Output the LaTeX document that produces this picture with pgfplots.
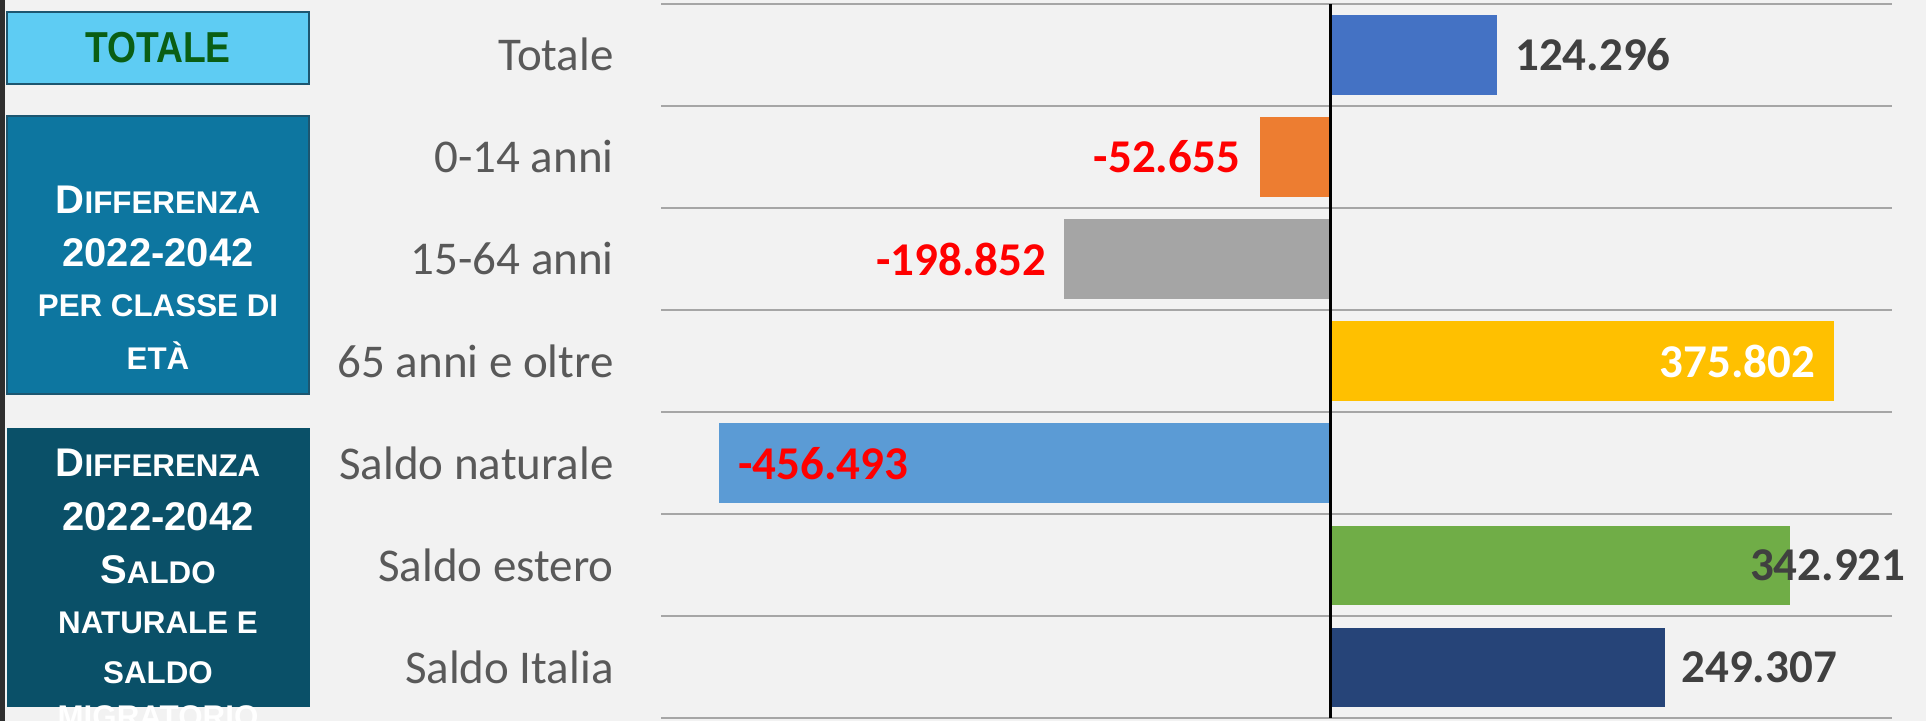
\documentclass[border=0pt]{standalone}
\usepackage{pgfplots}
\pgfplotsset{compat=1.18}
\usepackage{fontspec}
\setmainfont{Carlito}
\newfontfamily\arialfont{Liberation Sans}
\definecolor{bg}{HTML}{F2F2F2}
\definecolor{strip}{HTML}{2E2E2E}
\definecolor{boxA}{HTML}{5ECCF3}
\definecolor{boxAtext}{HTML}{0A5E14}
\definecolor{boxB}{HTML}{0D76A0}
\definecolor{boxC}{HTML}{0A5068}
\definecolor{boxedge}{HTML}{1D5670}
\definecolor{gridgray}{HTML}{A6A6A6}
\definecolor{labelgray}{HTML}{595959}
\definecolor{valgray}{HTML}{404040}
\definecolor{cTot}{HTML}{4472C4}
\definecolor{cA}{HTML}{ED7D31}
\definecolor{cB}{HTML}{A5A5A5}
\definecolor{cC}{HTML}{FFC000}
\definecolor{cD}{HTML}{5B9BD5}
\definecolor{cE}{HTML}{70AD47}
\definecolor{cF}{HTML}{264478}
\newcommand{\bg}[1]{{\fontsize{12}{14}\selectfont #1}}
\newcommand{\sm}[1]{{\fontsize{9.4}{11}\selectfont #1}}
\begin{document}
\begin{tikzpicture}
\useasboundingbox (0,0) rectangle (577.8pt,216.3pt);
\fill[bg] (0,0) rectangle (577.8pt,216.3pt);
\fill[strip] (0,0) rectangle (1.5pt,216.3pt);
% box 1
\filldraw[fill=boxA, draw=boxedge, line width=0.4pt] (2.1pt,191.1pt) rectangle (92.7pt,212.7pt);
\node[text=boxAtext, font=\arialfont\bfseries\fontsize{13}{15}\selectfont, xscale=0.86] at (47.4pt,201.9pt) {TOTALE};
% box 2
\filldraw[fill=boxB, draw=boxedge, line width=0.4pt] (2.1pt,98.1pt) rectangle (92.7pt,181.5pt);
\begin{scope}[every node/.style={text=white, font=\arialfont\bfseries}]
\node at (47.4pt,156.3pt) {\bg{D}\sm{IFFERENZA}};
\node at (47.4pt,140.4pt) {\bg{2022-2042}};
\node at (47.4pt,124.5pt) {\sm{PER CLASSE DI}};
\node at (47.4pt,109.5pt) {\sm{ETÀ}};
\end{scope}
% box 3
\fill[boxC] (2.1pt,4.2pt) rectangle (93pt,87.9pt);
\begin{scope}[every node/.style={text=white, font=\arialfont\bfseries}]
\node at (47.4pt,77.4pt) {\bg{D}\sm{IFFERENZA}};
\node at (47.4pt,61.2pt) {\bg{2022-2042}};
\node at (47.4pt,45.3pt) {\bg{S}\sm{ALDO}};
\node at (47.4pt,29.4pt) {\sm{NATURALE E}};
\node at (47.4pt,14.4pt) {\sm{SALDO}};
\node at (47.4pt,1.2pt) {\sm{MIGRATORIO}};
\end{scope}
\begin{axis}[
  at={(198.3pt,0.75pt)}, anchor=south west, scale only axis,
  width=369.3pt, height=214.44pt,
  xmin=-500, xmax=419, ymin=-0.5, ymax=6.5,
  axis line style={draw=none},
  xtick=\empty,
  ytick={0,1,2,3,4,5,6},
  yticklabels={Saldo Italia, Saldo estero, Saldo naturale, 65 anni e oltre, 15-64 anni, 0-14 anni, Totale},
  minor ytick={-0.5,0.5,1.5,2.5,3.5,4.5,5.5,6.5},
  yminorgrids,
  minor grid style={draw=gridgray, line width=0.6pt},
  major tick length=0pt, minor tick length=0pt,
  yticklabel style={font=\fontsize{14.1}{16}\selectfont, text=labelgray, inner sep=0pt, xshift=-14pt},
  clip=false,
  every axis plot/.append style={xbar, bar width=0.78, bar shift=0pt, draw=none},
]
\addplot[fill=cTot] coordinates {(124.296,6)};
\addplot[fill=cA] coordinates {(-52.655,5)};
\addplot[fill=cB] coordinates {(-198.852,4)};
\addplot[fill=cC] coordinates {(375.802,3)};
\addplot[fill=cD] coordinates {(-456.493,2)};
\addplot[fill=cE] coordinates {(342.921,1)};
\addplot[fill=cF] coordinates {(249.307,0)};
\draw[black, line width=0.9pt] (axis cs:0,-0.5) -- (axis cs:0,6.5);
\begin{scope}[every node/.style={inner sep=0pt, font=\bfseries\fontsize{14.1}{16}\selectfont}]
\node[anchor=west, text=valgray, xshift=5.2pt] at (axis cs:124.296,6) {124.296};
\node[anchor=east, text=red, xshift=-5.9pt] at (axis cs:-52.655,5) {-52.655};
\node[anchor=east, text=red, xshift=-5.2pt] at (axis cs:-198.852,4) {-198.852};
\node[anchor=east, text=white, xshift=-5.5pt] at (axis cs:375.802,3) {375.802};
\node[anchor=west, text=red, xshift=5.5pt] at (axis cs:-456.493,2) {-456.493};
\node[anchor=west, text=valgray, xshift=-12.2pt] at (axis cs:342.921,1) {342.921};
\node[anchor=west, text=valgray, xshift=4.8pt] at (axis cs:249.307,0) {249.307};
\end{scope}
\end{axis}
\end{tikzpicture}
\end{document}
